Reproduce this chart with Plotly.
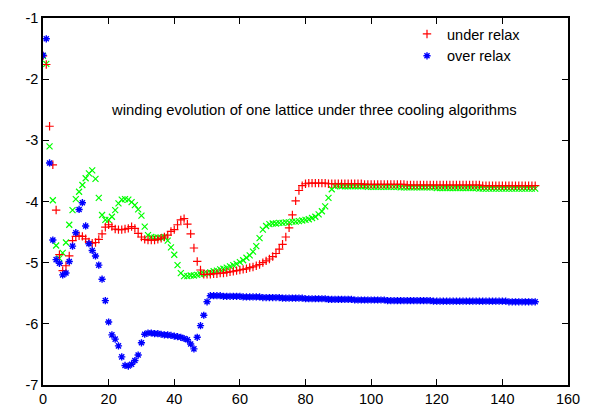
import plotly.graph_objects as go

steps = list(range(0, 151))

under_relax = [
    -1.62, -1.76, -2.77, -3.40, -4.14, -4.87, -5.13, -5.05, -4.89, -4.64,
    -4.57, -4.56, -4.57, -4.61, -4.66, -4.68, -4.67, -4.62, -4.53, -4.42,
    -4.38, -4.41, -4.45, -4.46, -4.46, -4.45, -4.44, -4.41, -4.44, -4.52,
    -4.58, -4.62, -4.63, -4.63, -4.63, -4.62, -4.60, -4.58, -4.55, -4.49,
    -4.46, -4.38, -4.30, -4.28, -4.37, -4.53, -4.76, -4.98, -5.12, -5.19,
    -5.19, -5.19, -5.18, -5.18, -5.17, -5.17, -5.16, -5.15, -5.14, -5.13,
    -5.12, -5.11, -5.10, -5.08, -5.07, -5.05, -5.03, -5.00, -4.97, -4.94,
    -4.90, -4.85, -4.78, -4.70, -4.58, -4.43, -4.22, -3.99, -3.82, -3.74,
    -3.71, -3.70, -3.70, -3.70, -3.70, -3.70, -3.70, -3.71, -3.71, -3.71,
    -3.71, -3.71, -3.71, -3.71, -3.71, -3.71, -3.71, -3.71, -3.72, -3.72,
    -3.72, -3.72, -3.72, -3.72, -3.72, -3.72, -3.72, -3.72, -3.72, -3.72,
    -3.72, -3.73, -3.73, -3.73, -3.73, -3.73, -3.73, -3.73, -3.73, -3.73,
    -3.73, -3.73, -3.73, -3.73, -3.73, -3.73, -3.73, -3.73, -3.73, -3.73,
    -3.73, -3.73, -3.73, -3.73, -3.74, -3.74, -3.74, -3.74, -3.74, -3.74,
    -3.74, -3.74, -3.74, -3.74, -3.74, -3.74, -3.74, -3.74, -3.74, -3.74,
    -3.74,
]

over_relax = [
    -1.61, -1.34, -3.37, -4.63, -4.95, -5.01, -5.20, -5.17, -4.98, -4.73,
    -4.51, -4.13, -4.02, -4.40, -4.69, -4.80, -4.89, -5.04, -5.27, -5.62,
    -5.97, -6.18, -6.25, -6.36, -6.54, -6.68, -6.69, -6.66, -6.60, -6.51,
    -6.31, -6.17, -6.15, -6.15, -6.16, -6.16, -6.17, -6.18, -6.18, -6.19,
    -6.20, -6.21, -6.22, -6.24, -6.26, -6.33, -6.41, -6.22, -6.03, -5.86,
    -5.64, -5.54, -5.54, -5.54, -5.54, -5.55, -5.55, -5.55, -5.55, -5.55,
    -5.55, -5.56, -5.56, -5.56, -5.56, -5.56, -5.56, -5.57, -5.57, -5.57,
    -5.57, -5.57, -5.57, -5.58, -5.58, -5.58, -5.58, -5.58, -5.58, -5.58,
    -5.59, -5.59, -5.59, -5.59, -5.59, -5.59, -5.59, -5.60, -5.60, -5.60,
    -5.60, -5.60, -5.60, -5.60, -5.60, -5.61, -5.61, -5.61, -5.61, -5.61,
    -5.61, -5.61, -5.61, -5.61, -5.61, -5.62, -5.62, -5.62, -5.62, -5.62,
    -5.62, -5.62, -5.62, -5.62, -5.62, -5.62, -5.62, -5.62, -5.62, -5.63,
    -5.63, -5.63, -5.63, -5.63, -5.63, -5.63, -5.63, -5.63, -5.63, -5.63,
    -5.63, -5.63, -5.63, -5.63, -5.63, -5.63, -5.63, -5.63, -5.63, -5.63,
    -5.63, -5.63, -5.64, -5.64, -5.64, -5.64, -5.64, -5.64, -5.64, -5.64,
    -5.64,
]

third_algorithm = [
    -1.62, -1.75, -3.10, -3.98, -4.72, -4.93, -4.84, -4.67, -4.38, -4.14,
    -3.96, -3.84, -3.73, -3.62, -3.54, -3.49, -3.63, -3.94, -4.22, -4.30,
    -4.30, -4.25, -4.14, -4.03, -3.97, -3.96, -3.97, -4.01, -4.06, -4.13,
    -4.23, -4.41, -4.55, -4.58, -4.59, -4.59, -4.59, -4.58, -4.64, -4.75,
    -4.87, -5.04, -5.17, -5.22, -5.22, -5.21, -5.21, -5.20, -5.19, -5.18,
    -5.17, -5.16, -5.14, -5.13, -5.11, -5.10, -5.08, -5.06, -5.04, -5.02,
    -4.99, -4.96, -4.92, -4.88, -4.82, -4.73, -4.60, -4.46, -4.40, -4.37,
    -4.36, -4.36, -4.35, -4.35, -4.34, -4.34, -4.33, -4.33, -4.32, -4.31,
    -4.30, -4.29, -4.27, -4.25, -4.21, -4.16, -4.08, -3.94, -3.80, -3.75,
    -3.74, -3.75, -3.75, -3.75, -3.75, -3.75, -3.75, -3.75, -3.75, -3.76,
    -3.76, -3.76, -3.76, -3.76, -3.76, -3.76, -3.76, -3.76, -3.76, -3.77,
    -3.77, -3.77, -3.77, -3.77, -3.77, -3.77, -3.77, -3.77, -3.77, -3.77,
    -3.78, -3.78, -3.78, -3.78, -3.78, -3.78, -3.78, -3.78, -3.78, -3.78,
    -3.78, -3.78, -3.78, -3.79, -3.79, -3.79, -3.79, -3.79, -3.79, -3.79,
    -3.79, -3.79, -3.79, -3.79, -3.79, -3.79, -3.79, -3.79, -3.79, -3.79,
    -3.79,
]

x_ticks = [0, 20, 40, 60, 80, 100, 120, 140, 160]
x_tick_labels = ["0", "20", "40", "60", "80", "100", "120", "140", "160"]
y_ticks = [-7, -6, -5, -4, -3, -2, -1]
y_tick_labels = ["-7", "-6", "-5", "-4", "-3", "-2", "-1"]

title_text = "winding evolution of one lattice under three cooling algorithms"

FONT = "Liberation Sans, Arial, Helvetica, sans-serif"

fig = go.Figure()

fig.add_trace(go.Scatter(
    x=steps, y=third_algorithm, mode="markers", name="third",
    showlegend=False,
    marker=dict(symbol="x-thin", size=6, color="#00ff00",
                line=dict(color="#00ff00", width=1.2)),
))
fig.add_trace(go.Scatter(
    x=steps, y=under_relax, mode="markers", name="under relax",
    marker=dict(symbol="cross-thin", size=6, color="#ff0000",
                line=dict(color="#ff0000", width=1.2)),
))
fig.add_trace(go.Scatter(
    x=steps, y=over_relax, mode="markers", name="over relax",
    marker=dict(symbol="asterisk", size=6, color="#0000ff",
                line=dict(color="#0000ff", width=1.4)),
))

axis_common = dict(
    showline=True, linecolor="black", linewidth=1.5, mirror="ticks",
    ticks="inside", ticklen=6, tickwidth=1, tickcolor="black",
    showgrid=False, zeroline=False, automargin=False,
    tickfont=dict(family=FONT, size=14.5, color="black"),
)

fig.update_xaxes(range=[0, 160], tickmode="array", tickvals=x_ticks,
                 ticktext=x_tick_labels, **axis_common)
fig.update_yaxes(range=[-7, -1], tickmode="array", tickvals=y_ticks,
                 ticktext=y_tick_labels, **axis_common)

fig.add_annotation(
    x=20, y=-2.5, xref="x", yref="y", text=title_text, showarrow=False,
    xanchor="left", yanchor="middle",
    font=dict(family=FONT, size=14.8, color="black"),
)

# page body has an 8px margin, so the figure is 8px smaller than the window
fig.update_layout(
    width=585, height=407,
    margin=dict(l=35, r=25, t=10, b=30),
    paper_bgcolor="white", plot_bgcolor="white",
    font=dict(family=FONT, size=14.5, color="black"),
    legend=dict(x=0.92, xanchor="right", y=1.0, yanchor="top",
                bgcolor="rgba(0,0,0,0)", borderwidth=0,
                font=dict(family=FONT, size=14.5, color="black"),
                itemwidth=30),
)

fig.write_html("out.html")
